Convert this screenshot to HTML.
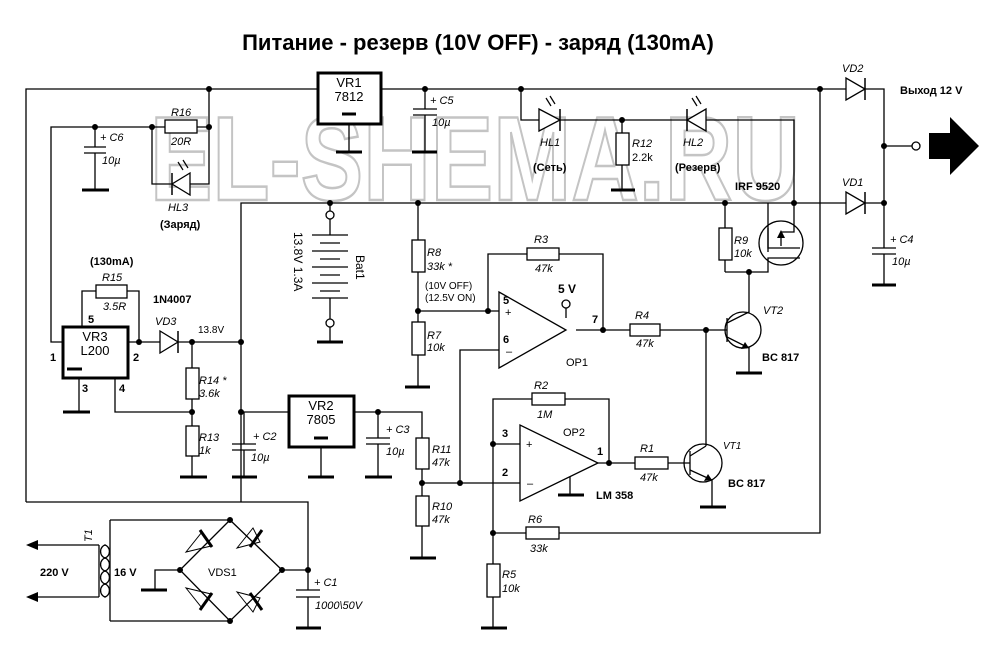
<!DOCTYPE html>
<html><head><meta charset="utf-8"><style>
html,body{margin:0;padding:0;background:#fff}
svg{display:block}
text{font-family:"Liberation Sans",sans-serif;fill:#000}
.i{font-style:italic;font-size:11px}
.b{font-weight:bold;font-size:11px}
.n{font-size:11px}
</style></head><body>
<svg width="1005" height="653" viewBox="0 0 1005 653" xmlns="http://www.w3.org/2000/svg">
<rect width="1005" height="653" fill="#fff"/>
<text x="478" y="50" text-anchor="middle" style="font-weight:bold;font-size:22px">Питание - резерв (10V OFF) - заряд (130mA)</text>
<!-- watermark -->
<text x="150" y="200" textLength="650" lengthAdjust="spacingAndGlyphs" style="font-size:120px;font-weight:bold;fill:#fff;stroke:#c4c4c4;stroke-width:2.5">EL-SHEMA.RU</text>

<g stroke="#000" stroke-width="1.3" fill="none">
<polyline points="26,502 26,89 318,89"/>
<polyline points="381,89 846,89"/>
<polyline points="865,89 884,89 884,203"/>
<line x1="884" y1="146" x2="913" y2="146"/>
<line x1="349" y1="124" x2="349" y2="152"/>
<line x1="425" y1="89" x2="425" y2="109"/><line x1="425" y1="115" x2="425" y2="152"/>
<line x1="413" y1="109" x2="437" y2="109"/><line x1="413" y1="115" x2="437" y2="115"/>
<polyline points="209,89 209,127 197,127"/>
<polyline points="165,127 51,127 51,342 63,342"/>
<line x1="95" y1="127" x2="95" y2="147"/><line x1="95" y1="153" x2="95" y2="190"/>
<line x1="84" y1="147" x2="106" y2="147"/><line x1="84" y1="153" x2="106" y2="153"/>
<polyline points="152,127 152,184 209,184 209,127"/>
<polyline points="521,89 521,120 794,120 794,203"/>
<line x1="622" y1="120" x2="622" y2="190"/>
<polyline points="820,89 820,533 493,533"/>
<polyline points="241,502 241,203 846,203"/>
<polyline points="865,203 884,203 884,248"/><line x1="884" y1="254" x2="884" y2="285"/>
<line x1="872" y1="248" x2="896" y2="248"/><line x1="872" y1="254" x2="896" y2="254"/>
<line x1="330" y1="203" x2="330" y2="211"/><line x1="330" y1="219" x2="330" y2="235"/>
<line x1="330" y1="298" x2="330" y2="319"/><line x1="330" y1="327" x2="330" y2="342"/>
<line x1="418" y1="203" x2="418" y2="387"/>
<polyline points="418,311 499,311"/>
<polyline points="488,311 488,254 603,254 603,330"/>
<polyline points="460,483 460,350 499,350"/>
<line x1="566" y1="308" x2="566" y2="318"/>
<polyline points="576,330 727,330"/>
<line x1="727" y1="318" x2="727" y2="342"/>
<polyline points="727,323 749,312 749,272"/>
<polyline points="727,337 749,348 749,373"/>
<circle cx="743" cy="330" r="18"/>
<line x1="706" y1="330" x2="706" y2="446"/>
<line x1="725" y1="203" x2="725" y2="272"/>
<polyline points="725,272 768,272 768,258 800,258"/>
<polyline points="768,203 768,248 800,248"/>
<line x1="768" y1="228" x2="768" y2="252"/>
<polyline points="794,203 794,232 781,232 781,246"/>
<circle cx="781" cy="243" r="22"/>
<polyline points="82,327 82,291 139,291 139,342"/>
<line x1="128" y1="342" x2="160" y2="342"/><line x1="178" y1="342" x2="241" y2="342"/>
<line x1="79" y1="378" x2="79" y2="412"/>
<polyline points="115,378 115,412 192,412"/>
<line x1="192" y1="342" x2="192" y2="477"/>
<polyline points="241,412 289,412"/>
<line x1="244" y1="412" x2="244" y2="444"/><line x1="244" y1="450" x2="244" y2="477"/>
<line x1="232" y1="444" x2="256" y2="444"/><line x1="232" y1="450" x2="256" y2="450"/>
<line x1="321" y1="447" x2="321" y2="477"/>
<polyline points="354,412 422,412 422,558"/>
<line x1="378" y1="412" x2="378" y2="438"/><line x1="378" y1="444" x2="378" y2="477"/>
<line x1="366" y1="438" x2="390" y2="438"/><line x1="366" y1="444" x2="390" y2="444"/>
<line x1="422" y1="483" x2="520" y2="483"/>
<polyline points="493,628 493,399 609,399 609,463"/>
<line x1="493" y1="444" x2="520" y2="444"/>
<line x1="598" y1="463" x2="690" y2="463"/>
<polyline points="570,472 570,495"/>
<line x1="690" y1="451" x2="690" y2="475"/>
<polyline points="690,456 706,446"/>
<polyline points="690,470 712,480 712,507"/>
<circle cx="703" cy="463" r="19"/>
<polyline points="26,502 308,502 308,590"/><line x1="308" y1="597" x2="308" y2="628"/>
<line x1="296" y1="590" x2="320" y2="590"/><line x1="296" y1="597" x2="320" y2="597"/>
<line x1="282" y1="570" x2="308" y2="570"/>
<polyline points="110,520 230,520"/><polyline points="110,621 230,621"/>
<line x1="110" y1="520" x2="110" y2="621"/>
<polyline points="99,545 99,597"/>
<line x1="34" y1="545" x2="99" y2="545"/><line x1="34" y1="597" x2="99" y2="597"/>
<polyline points="180,570 155,570 155,590"/>
<polyline points="230,520 180,570 230,621 282,570 230,520"/>
<path d="M104,545 a5,6 0 0 1 0,13 a5,6 0 0 1 0,13 a5,6 0 0 1 0,13 a5,6 0 0 1 0,13"/>
<path d="M106,545 a5,6 0 0 0 0,13 a5,6 0 0 0 0,13 a5,6 0 0 0 0,13 a5,6 0 0 0 0,13"/>
</g>
<g fill="#000">
<polygon points="26,545 38,540 38,550"/><polygon points="26,597 38,592 38,602"/>
<polygon points="929,133 950,133 950,117 979,146 950,175 950,159 929,159"/>
<polygon points="749,348 741,349 745,342"/>
<polygon points="712,480 704,481 708,474"/>
<polygon points="781,230 777,238 785,238"/>
</g>
<g stroke="#000" stroke-width="1.3">
<line x1="312" y1="235" x2="348" y2="235"/><line x1="320" y1="243" x2="340" y2="243"/>
<line x1="312" y1="251" x2="348" y2="251"/><line x1="320" y1="259" x2="340" y2="259"/>
<line x1="312" y1="267" x2="348" y2="267"/><line x1="320" y1="275" x2="340" y2="275"/>
<line x1="312" y1="283" x2="348" y2="283"/><line x1="320" y1="291" x2="340" y2="291"/>
<line x1="312" y1="298" x2="348" y2="298"/>
</g>
<g fill="#fff" stroke="#000" stroke-width="1.3">
<circle cx="330" cy="215" r="4"/><circle cx="330" cy="323" r="4"/><circle cx="916" cy="146" r="4"/><circle cx="566" cy="304" r="4"/>
<rect x="318" y="73" width="63" height="51" stroke-width="3"/>
<rect x="63" y="327" width="65" height="51" stroke-width="3"/>
<rect x="289" y="396" width="65" height="51" stroke-width="3"/>
<rect x="165" y="120" width="32" height="13"/>
<rect x="96" y="285" width="31" height="13"/>
<rect x="616" y="133" width="13" height="32"/>
<rect x="412" y="240" width="13" height="32"/>
<rect x="412" y="322" width="13" height="33"/>
<rect x="527" y="248" width="32" height="12"/>
<rect x="630" y="324" width="30" height="12"/>
<rect x="719" y="228" width="13" height="32"/>
<rect x="186" y="368" width="13" height="31"/>
<rect x="186" y="426" width="13" height="30"/>
<rect x="416" y="438" width="13" height="31"/>
<rect x="416" y="496" width="13" height="30"/>
<rect x="532" y="393" width="33" height="12"/>
<rect x="635" y="457" width="33" height="12"/>
<rect x="526" y="527" width="33" height="12"/>
<rect x="487" y="564" width="13" height="33"/>
<polygon points="499,292 499,368 566,330"/>
<polygon points="520,425 520,501 598,463"/>
<polygon points="539,109 539,131 560,120"/>
<polygon points="706,109 706,131 687,120"/>
<polygon points="846,78 846,100 865,89"/>
<polygon points="846,192 846,214 865,203"/>
<polygon points="190,173 190,195 172,184"/>
<polygon points="160,331 160,353 178,342"/>
</g>
<g stroke="#000" stroke-width="1.5">
<line x1="560" y1="109" x2="560" y2="131"/><line x1="687" y1="109" x2="687" y2="131"/>
<line x1="865" y1="78" x2="865" y2="100"/><line x1="865" y1="192" x2="865" y2="214"/>
<line x1="172" y1="173" x2="172" y2="195"/><line x1="178" y1="331" x2="178" y2="353"/>
</g>
<g stroke="#000" stroke-width="1" fill="none">
<polygon points="186,552 202,532 211,546"/><polygon points="237,548 253,528 260,542"/>
<polygon points="186,588 202,608 211,594"/><polygon points="237,592 253,612 260,598"/>
</g>
<g stroke="#000" stroke-width="3">
<line x1="200" y1="530" x2="212" y2="547"/><line x1="250" y1="547" x2="262" y2="530"/>
<line x1="200" y1="610" x2="212" y2="593"/><line x1="250" y1="593" x2="262" y2="610"/>
<line x1="336" y1="152" x2="362" y2="152"/><line x1="412" y1="152" x2="437" y2="152"/>
<line x1="82" y1="190" x2="109" y2="190"/><line x1="611" y1="190" x2="635" y2="190"/>
<line x1="872" y1="285" x2="896" y2="285"/><line x1="317" y1="342" x2="343" y2="342"/>
<line x1="405" y1="387" x2="430" y2="387"/><line x1="736" y1="373" x2="762" y2="373"/>
<line x1="63" y1="412" x2="90" y2="412"/><line x1="180" y1="477" x2="207" y2="477"/>
<line x1="232" y1="477" x2="257" y2="477"/><line x1="308" y1="477" x2="334" y2="477"/>
<line x1="365" y1="477" x2="392" y2="477"/><line x1="410" y1="558" x2="436" y2="558"/>
<line x1="558" y1="495" x2="584" y2="495"/><line x1="700" y1="507" x2="726" y2="507"/>
<line x1="481" y1="628" x2="507" y2="628"/><line x1="296" y1="628" x2="321" y2="628"/>
<line x1="141" y1="590" x2="167" y2="590"/>
<line x1="342" y1="114" x2="356" y2="114"/><line x1="67" y1="369" x2="82" y2="369"/><line x1="314" y1="438" x2="328" y2="438"/>
</g>
<g fill="#000">
<circle cx="209" cy="89" r="3"/><circle cx="425" cy="89" r="3"/><circle cx="521" cy="89" r="3"/><circle cx="820" cy="89" r="3"/>
<circle cx="95" cy="127" r="3"/><circle cx="152" cy="127" r="3"/><circle cx="209" cy="127" r="3"/><circle cx="622" cy="120" r="3"/>
<circle cx="884" cy="146" r="3"/><circle cx="884" cy="203" r="3"/><circle cx="330" cy="203" r="3"/><circle cx="418" cy="203" r="3"/>
<circle cx="725" cy="203" r="3"/><circle cx="794" cy="203" r="3"/><circle cx="749" cy="272" r="3"/>
<circle cx="418" cy="311" r="3"/><circle cx="488" cy="311" r="3"/><circle cx="603" cy="330" r="3"/><circle cx="706" cy="330" r="3"/>
<circle cx="139" cy="342" r="3"/><circle cx="192" cy="342" r="3"/><circle cx="241" cy="342" r="3"/>
<circle cx="192" cy="412" r="3"/><circle cx="241" cy="412" r="3"/><circle cx="378" cy="412" r="3"/>
<circle cx="422" cy="483" r="3"/><circle cx="460" cy="483" r="3"/><circle cx="493" cy="444" r="3"/><circle cx="609" cy="463" r="3"/>
<circle cx="493" cy="533" r="3"/><circle cx="230" cy="520" r="3"/><circle cx="230" cy="621" r="3"/><circle cx="180" cy="570" r="3"/>
<circle cx="282" cy="570" r="3"/><circle cx="308" cy="570" r="3"/>
</g>
<text x="349" y="87" text-anchor="middle" class="n" style="font-size:13px">VR1</text>
<text x="349" y="101" text-anchor="middle" class="n" style="font-size:13px">7812</text>
<text x="95" y="341" text-anchor="middle" class="n" style="font-size:13px">VR3</text>
<text x="95" y="355" text-anchor="middle" class="n" style="font-size:13px">L200</text>
<text x="321" y="410" text-anchor="middle" class="n" style="font-size:13px">VR2</text>
<text x="321" y="424" text-anchor="middle" class="n" style="font-size:13px">7805</text>
<text x="430" y="104" class="i">+ C5</text><text x="432" y="126" class="i">10µ</text>
<text x="100" y="141" class="i">+ C6</text><text x="102" y="164" class="i">10µ</text>
<text x="171" y="116" class="i">R16</text><text x="171" y="145" class="i">20R</text>
<text x="168" y="211" class="i">HL3</text><text x="160" y="228" class="b">(Заряд)</text>
<text x="540" y="146" class="i">HL1</text><text x="533" y="171" class="b">(Сеть)</text>
<text x="632" y="147" class="i">R12</text><text x="632" y="161" class="n">2.2k</text>
<text x="683" y="146" class="i">HL2</text><text x="675" y="171" class="b">(Резерв)</text>
<text x="735" y="190" class="b">IRF 9520</text>
<text x="842" y="72" class="i">VD2</text><text x="842" y="186" class="i">VD1</text>
<text x="900" y="94" class="b">Выход 12 V</text>
<text x="890" y="243" class="i">+ C4</text><text x="892" y="265" class="i">10µ</text>
<text x="734" y="244" class="i">R9</text><text x="734" y="257" class="i">10k</text>
<text x="427" y="256" class="i">R8</text><text x="427" y="270" class="i">33k *</text>
<text x="425" y="289" class="n" style="font-size:10px">(10V OFF)</text><text x="425" y="301" class="n" style="font-size:10px">(12.5V ON)</text>
<text x="427" y="339" class="i">R7</text><text x="427" y="351" class="i">10k</text>
<text x="534" y="243" class="i">R3</text><text x="535" y="272" class="i">47k</text>
<text x="558" y="293" class="b" style="font-size:12px">5 V</text>
<text x="503" y="304" class="b">5</text><text x="503" y="343" class="b">6</text><text x="592" y="323" class="b">7</text>
<text x="505" y="316" class="n">+</text><text x="506" y="355" class="n">–</text>
<text x="566" y="366" class="n">OP1</text>
<text x="635" y="319" class="i">R4</text><text x="636" y="347" class="i">47k</text>
<text x="763" y="314" class="i">VT2</text><text x="762" y="361" class="b">BC 817</text>
<text x="90" y="265" class="b">(130mA)</text>
<text x="102" y="281" class="i">R15</text><text x="103" y="310" class="i">3.5R</text>
<text x="153" y="303" class="b">1N4007</text><text x="155" y="325" class="i">VD3</text>
<text x="198" y="333" class="n" style="font-size:10px">13.8V</text>
<text x="88" y="323" class="b">5</text><text x="50" y="361" class="b">1</text><text x="133" y="361" class="b">2</text>
<text x="82" y="392" class="b">3</text><text x="119" y="392" class="b">4</text>
<text x="199" y="384" class="i">R14 *</text><text x="199" y="397" class="i">3.6k</text>
<text x="199" y="441" class="i">R13</text><text x="199" y="454" class="i">1k</text>
<text x="253" y="440" class="i">+ C2</text><text x="251" y="461" class="i">10µ</text>
<text x="386" y="433" class="i">+ C3</text><text x="386" y="455" class="i">10µ</text>
<text x="432" y="453" class="i">R11</text><text x="432" y="466" class="i">47k</text>
<text x="432" y="510" class="i">R10</text><text x="432" y="523" class="i">47k</text>
<text x="534" y="389" class="i">R2</text><text x="537" y="418" class="i">1M</text>
<text x="563" y="436" class="n">OP2</text>
<text x="502" y="437" class="b">3</text><text x="502" y="476" class="b">2</text><text x="597" y="455" class="b">1</text>
<text x="526" y="448" class="n">+</text><text x="527" y="487" class="n">–</text>
<text x="596" y="499" class="b">LM 358</text>
<text x="640" y="452" class="i">R1</text><text x="640" y="481" class="i">47k</text>
<text x="723" y="449" class="i" style="font-size:10px">VT1</text><text x="728" y="487" class="b">BC 817</text>
<text x="528" y="523" class="i">R6</text><text x="530" y="552" class="i">33k</text>
<text x="502" y="578" class="i">R5</text><text x="502" y="592" class="i">10k</text>
<text x="314" y="586" class="i">+ C1</text><text x="315" y="609" class="i">1000\50V</text>
<text x="208" y="576" class="n">VDS1</text>
<text x="40" y="576" class="b">220 V</text><text x="114" y="576" class="b">16 V</text>
<text transform="translate(92,542) rotate(-90)" class="i">T1</text>
<text transform="translate(294,232) rotate(90)" class="n" style="font-size:12px">13.8V  1.3A</text>
<text transform="translate(356,255) rotate(90)" class="n" style="font-size:12px">Bat1</text>
<g stroke="#000" stroke-width="1.2"><line x1="183" y1="170" x2="178" y2="162"/><line x1="188" y1="168" x2="183" y2="160"/>
<line x1="551" y1="106" x2="546" y2="98"/><line x1="555" y1="104" x2="550" y2="96"/>
<line x1="697" y1="106" x2="692" y2="98"/><line x1="701" y1="104" x2="696" y2="96"/></g>
</svg>
</body></html>
